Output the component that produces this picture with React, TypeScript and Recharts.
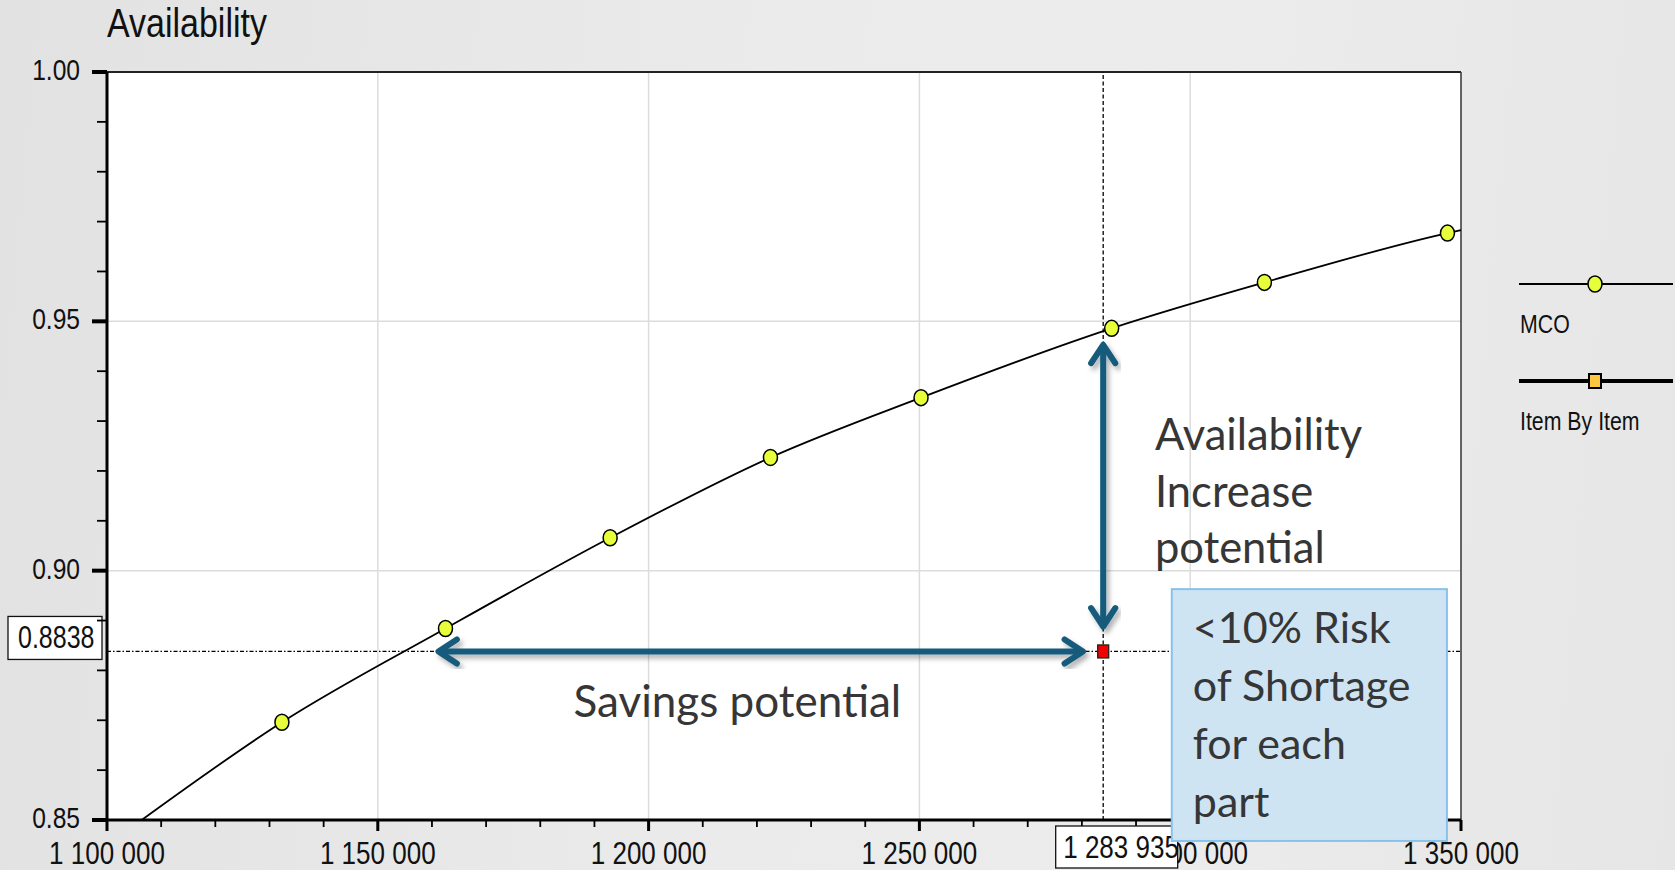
import React from 'react';
import {
  ComposedChart,
  Line,
  Scatter,
  XAxis,
  YAxis,
  CartesianGrid,
  ReferenceLine,
  ReferenceArea,
  ReferenceDot,
  Legend,
} from 'recharts';

// MCO curve (first / last entry = where the line meets the frame, no marker)
const mcoCost = [1106400, 1132300, 1162500, 1192900, 1222500, 1250300, 1285500, 1313700, 1347500, 1350000];
const mcoAvail = [0.85, 0.8696, 0.8884, 0.9066, 0.9227, 0.9347, 0.9486, 0.9578, 0.9677, 0.9683];
const mcoMarker = [false, true, true, true, true, true, true, true, true, false];

// Item By Item result
const itemCost = [1283935];
const itemAvail = [0.8838];

const xMajorTicks = [1100000, 1150000, 1200000, 1250000, 1300000, 1350000];
const xMinorStep = 10000;
const yTicks = [0.85, 0.86, 0.87, 0.88, 0.89, 0.9, 0.91, 0.92, 0.93, 0.94, 0.95, 0.96, 0.97, 0.98, 0.99, 1.0];
const yMajorTicks = [0.85, 0.9, 0.95, 1.0];

// annotations (data coordinates)
const savingsArrow = [1161200, 1280200];
const increaseArrow = [0.9453, 0.8888];
const savingsText = 'Savings potential';
const increaseText = ['Availability', 'Increase', 'potential'];
const riskText = ['<10% Risk', 'of Shortage', 'for each', 'part'];

const xTicks: number[] = [];
for (let v = xMajorTicks[0]; v <= xMajorTicks[xMajorTicks.length - 1]; v += xMinorStep) xTicks.push(v);

const mcoData = mcoCost.map((x, i) => ({ x, y: mcoAvail[i], marker: mcoMarker[i] }));
const itemData = itemCost.map((x, i) => ({ x, y: itemAvail[i] }));

const AXIS_FONT = "'Liberation Sans', Arial, sans-serif";
const NOTE_FONT = "Lato, 'Open Sans', sans-serif";
const MCO_DOT = '#e6ff3a';
const ARROW = '#145a7c';
const NOTE_COLOR = '#363636';

const fmtCost = (v: number) => String(v).replace(/\B(?=(\d{3})+(?!\d))/g, ' ');

// Arial squeezed horizontally, standing in for Arial Narrow
const Narrow = ({ x, y, size, anchor = 'start', sx = 0.82, children }: any) => (
  <text
    transform={`translate(${x},${y}) scale(${sx},1)`}
    textAnchor={anchor}
    fontFamily={AXIS_FONT}
    fontSize={size}
    fill="#111"
  >
    {children}
  </text>
);

const XTick = ({ x, y, payload }: any) => {
  const major = xMajorTicks.includes(payload.value);
  return (
    <g>
      <line x1={x} x2={x} y1={y} y2={y + (major ? 11 : 7)} stroke="#000" strokeWidth={major ? 3 : 1.8} />
      {major && (
        <Narrow x={x} y={y + 44} size={31} sx={0.84} anchor="middle">
          {fmtCost(payload.value)}
        </Narrow>
      )}
    </g>
  );
};

const YTick = ({ x, y, payload }: any) => {
  const major = yMajorTicks.some((t) => Math.abs(t - payload.value) < 1e-6);
  return (
    <g>
      <line x1={x - (major ? 15 : 10)} x2={x} y1={y} y2={y} stroke="#000" strokeWidth={major ? 4 : 1.8} />
      {major && (
        <Narrow x={x - 27} y={y + 8} size={30} anchor="end">
          {payload.value.toFixed(2)}
        </Narrow>
      )}
    </g>
  );
};

// open chevron arrow on both ends, with a soft shadow
const DoubleArrow = (props: any) => {
  const { x1, y1, x2, y2, id } = props;
  const a = Math.atan2(y2 - y1, x2 - x1);
  const L = 22;
  const w = 0.58;
  const head = (x: number, y: number, d: number) =>
    `M${x - L * Math.cos(d - w)},${y - L * Math.sin(d - w)} L${x},${y} L${x - L * Math.cos(d + w)},${y - L * Math.sin(d + w)}`;
  const c = Math.cos(a) * 3;
  const s = Math.sin(a) * 3;
  return (
    <g>
      <defs>
        <filter id={id} x="-20%" y="-20%" width="140%" height="140%">
          <feDropShadow dx="3" dy="4" stdDeviation="2.5" floodColor="#000" floodOpacity="0.3" />
        </filter>
      </defs>
      <g filter={`url(#${id})`} stroke={ARROW} strokeWidth={6} fill="none" strokeLinecap="round" strokeLinejoin="round">
        <line x1={x1 + c} y1={y1 + s} x2={x2 - c} y2={y2 - s} />
        <path d={head(x2, y2, a)} />
        <path d={head(x1, y1, a + Math.PI)} />
      </g>
    </g>
  );
};

const LegendBox = () => (
  <svg width={160} height={190} style={{ display: 'block' }}>
    <line x1={0} x2={154} y1={24} y2={24} stroke="#000" strokeWidth={1.8} />
    <ellipse cx={76} cy={24} rx={7} ry={8} fill={MCO_DOT} stroke="#000" strokeWidth={1.5} />
    <Narrow x={1} y={73} size={26}>MCO</Narrow>
    <line x1={0} x2={154} y1={121} y2={121} stroke="#000" strokeWidth={4} />
    <rect x={70} y={114} width={12} height={14} fill="#ffc640" stroke="#000" strokeWidth={2} />
    <Narrow x={1} y={170} size={26}>Item By Item</Narrow>
  </svg>
);

export default function App() {
  return (
    <div
      style={{
        position: 'absolute',
        left: 0,
        top: 0,
        width: 1675,
        height: 870,
        background: 'linear-gradient(95deg, #e2e2e2 0%, #ebebeb 45%, #ececec 70%, #e6e6e6 100%)',
        overflow: 'hidden',
      }}
    >
      <ComposedChart width={1675} height={870} margin={{ top: 72, right: 214, bottom: 0, left: 0 }}>
        <CartesianGrid
          fill="#fff"
          stroke="#dcdcdc"
          strokeWidth={1.5}
          horizontalValues={[0.9, 0.95]}
          verticalValues={[1150000, 1200000, 1250000, 1300000]}
        />
        <XAxis
          type="number"
          dataKey="x"
          domain={[1100000, 1350000]}
          ticks={xTicks}
          interval={0}
          height={50}
          tickSize={0}
          tickMargin={0}
          tickLine={false}
          tick={<XTick />}
          axisLine={{ stroke: '#000', strokeWidth: 3 }}
        />
        <YAxis
          type="number"
          dataKey="y"
          domain={[0.85, 1.0]}
          ticks={yTicks}
          interval={0}
          width={107}
          tickSize={0}
          tickMargin={0}
          tickLine={false}
          tick={<YTick />}
          axisLine={{ stroke: '#000', strokeWidth: 3 }}
          label={{
            content: ({ viewBox }: any) => (
              <Narrow x={viewBox.x + viewBox.width} y={viewBox.y - 35} size={40} sx={0.85}>
                Availability
              </Narrow>
            ),
          }}
        />
        {/* thin frame on top and right */}
        <ReferenceLine y={1.0} stroke="#222" strokeWidth={2} />
        <ReferenceLine x={1350000} stroke="#333" strokeWidth={1.5} />

        {/* crosshair through the Item By Item result */}
        <ReferenceLine
          y={itemAvail[0]}
          stroke="#000"
          strokeWidth={1.3}
          strokeDasharray="4 2 1.5 2"
          label={{
            content: ({ viewBox }: any) => (
              <g>
                <rect x={viewBox.x - 99} y={viewBox.y - 35} width={94} height={43} fill="#fff" stroke="#111" strokeWidth={1.3} />
                <Narrow x={viewBox.x - 89} y={viewBox.y - 3} size={30.5}>
                  {itemAvail[0].toFixed(4)}
                </Narrow>
              </g>
            ),
          }}
        />
        <ReferenceLine x={itemCost[0]} stroke="#000" strokeWidth={1.3} strokeDasharray="4 2.5" />
        {/* value box under the x axis, above the tick labels */}
        <ReferenceDot
          x={itemCost[0]}
          y={0.85}
          ifOverflow="visible"
          zIndex={2900}
          shape={(p: any) => (
            <g>
              <rect x={p.cx - 47.5} y={p.cy + 6} width={122} height={42} fill="#fff" stroke="#111" strokeWidth={1.3} />
              <Narrow x={p.cx - 40} y={p.cy + 38} size={31} sx={0.84}>
                {fmtCost(itemCost[0])}
              </Narrow>
            </g>
          )}
        />

        <Line
          name="MCO"
          data={mcoData}
          dataKey="y"
          type="monotone"
          stroke="#000"
          strokeWidth={1.8}
          isAnimationActive={false}
          activeDot={false}
          dot={(p: any) =>
            p.payload.marker ? (
              <ellipse key={`d${p.index}`} cx={p.cx} cy={p.cy} rx={7} ry={8} fill={MCO_DOT} stroke="#000" strokeWidth={1.5} />
            ) : (
              <g key={`d${p.index}`} />
            )
          }
        />
        <Scatter
          name="Item By Item"
          data={itemData}
          dataKey="y"
          isAnimationActive={false}
          shape={(p: any) => (
            <rect x={p.cx - 5.5} y={p.cy - 6.5} width={11} height={13} fill="#f00000" stroke="#222" strokeWidth={1.3} />
          )}
        />

        {/* arrows */}
        <ReferenceLine
          segment={[
            { x: savingsArrow[0], y: itemAvail[0] },
            { x: savingsArrow[1], y: itemAvail[0] },
          ]}
          shape={(p: any) => <DoubleArrow {...p} id="shadowH" />}
        />
        <ReferenceLine
          segment={[
            { x: itemCost[0], y: increaseArrow[0] },
            { x: itemCost[0], y: increaseArrow[1] },
          ]}
          shape={(p: any) => <DoubleArrow {...p} id="shadowV" />}
        />

        {/* annotation texts */}
        <ReferenceDot
          x={1216400}
          y={0.8707}
          r={0}
          fill="none"
          stroke="none"
          label={{
            content: ({ viewBox }: any) => (
              <text x={viewBox.x} y={viewBox.y} textAnchor="middle" fontFamily={NOTE_FONT} fontSize={44} fill={NOTE_COLOR}>
                {savingsText}
              </text>
            ),
          }}
        />
        <ReferenceDot
          x={1293500}
          y={0.9242}
          r={0}
          fill="none"
          stroke="none"
          label={{
            content: ({ viewBox }: any) => (
              <text fontFamily={NOTE_FONT} fontSize={43.5} fill={NOTE_COLOR}>
                {increaseText.map((t, i) => (
                  <tspan key={t} x={viewBox.x} y={viewBox.y + i * 56.7}>
                    {t}
                  </tspan>
                ))}
              </text>
            ),
          }}
        />
        {/* call-out box, drawn over the axis */}
        <ReferenceArea
          x1={1296600}
          x2={1347400}
          y1={0.8458}
          y2={0.8963}
          ifOverflow="visible"
          zIndex={3000}
          shape={(p: any) => (
            <g>
              <rect x={p.x} y={p.y} width={p.width} height={p.height} fill="#cfe4f3" stroke="#88c2ea" strokeWidth={2} />
              <text fontFamily={NOTE_FONT} fontSize={43} fill={NOTE_COLOR}>
                {riskText.map((t, i) => (
                  <tspan key={t} x={p.x + 21} y={p.y + 53.4 + i * 58}>
                    {t}
                  </tspan>
                ))}
              </text>
            </g>
          )}
        />

        <Legend
          layout="vertical"
          align="center"
          verticalAlign="middle"
          wrapperStyle={{ left: 1519, top: 260, width: 160, height: 190 }}
          content={() => <LegendBox />}
        />
      </ComposedChart>
    </div>
  );
}
